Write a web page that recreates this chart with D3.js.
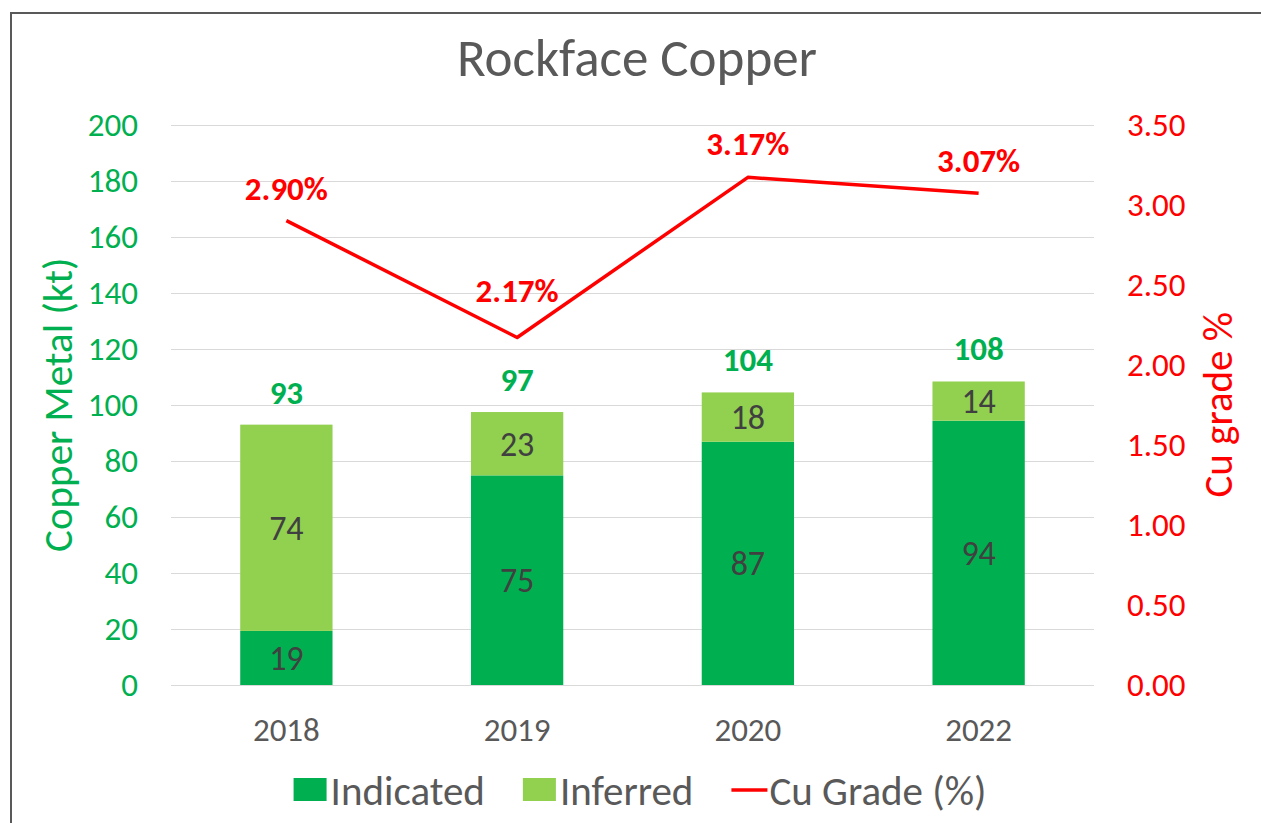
<!DOCTYPE html>
<html>
<head>
<meta charset="UTF-8">
<title>Rockface Copper</title>
<script src="https://d3js.org/d3.v7.min.js"></script>
<style>
    body {
        margin: 0;
        background-color: #fff;
        font-family: Calibri, Carlito, Lato, sans-serif;
    }
    .grid line {
        stroke: #d9d9d9;
        stroke-width: 1;
    }
</style>
</head>
<body>
<svg id="main" width="1261" height="823"></svg>
<script>
    // data
    var years = ["2018", "2019", "2020", "2022"];
    var indicated = [19.3, 74.8, 86.8, 94.3];
    var inferred = [73.6, 22.6, 17.6, 14.0];
    var cuGrade = [2.90, 2.17, 3.17, 3.07];
    var leftTicks = [0, 20, 40, 60, 80, 100, 120, 140, 160, 180, 200];
    var rightTicks = [0, 0.5, 1, 1.5, 2, 2.5, 3, 3.5];

    var green = "#00B050", lightGreen = "#92D050", red = "#FF0000", grey = "#595959";
    var fontStack = "Calibri, Carlito, Lato, sans-serif";

    var svg = d3.select("#main");

    // chart frame
    svg.append("rect")
        .attr("x", 11).attr("y", 13)
        .attr("width", 1400).attr("height", 1000)
        .attr("fill", "#fff")
        .attr("stroke", grey)
        .attr("stroke-width", 2);

    var plotL = 171, plotR = 1094, plotT = 124.5, plotB = 685;

    var x = d3.scaleBand().domain(years).range([plotL, plotR]).paddingInner(0.6).paddingOuter(0.3);
    var y = d3.scaleLinear().domain([0, 200]).range([plotB, plotT]);
    var y2 = d3.scaleLinear().domain([0, 3.5]).range([plotB, plotT]);
    var cx = function(i) { return x(years[i]) + x.bandwidth() / 2; };

    // title
    svg.append("text")
        .attr("x", 637).attr("y", 76)
        .attr("text-anchor", "middle")
        .attr("font-size", 53)
        .attr("fill", grey)
        .text("Rockface Copper");

    // gridlines
    svg.append("g").attr("class", "grid")
        .selectAll("line").data(leftTicks).enter().append("line")
        .attr("x1", plotL).attr("x2", plotR)
        .attr("y1", d => Math.round(y(d)) + 0.5)
        .attr("y2", d => Math.round(y(d)) + 0.5);

    // left axis
    var yAxis = svg.append("g")
        .attr("transform", "translate(" + (plotL - 12) + ",0)")
        .call(d3.axisLeft(y).tickValues(leftTicks).tickSize(0).tickPadding(21));
    yAxis.select(".domain").remove();
    yAxis.selectAll("text").attr("font-size", 33).attr("fill", green)
        .attr("font-family", fontStack);

    // right axis
    var y2Axis = svg.append("g")
        .attr("transform", "translate(" + (plotR + 12) + ",0)")
        .call(d3.axisRight(y2).tickValues(rightTicks).tickSize(0).tickPadding(21).tickFormat(d3.format(".2f")));
    y2Axis.select(".domain").remove();
    y2Axis.selectAll("text").attr("font-size", 33).attr("fill", red)
        .attr("font-family", fontStack);

    // category axis
    var xAxis = svg.append("g")
        .attr("transform", "translate(0," + plotB + ")")
        .call(d3.axisBottom(x).tickSize(0).tickPadding(33));
    xAxis.select(".domain").remove();
    xAxis.selectAll("text").attr("font-size", 33).attr("fill", grey)
        .attr("font-family", fontStack);

    // axis titles
    svg.append("text")
        .attr("transform", "translate(72," + ((plotT + plotB) / 2) + ") rotate(-90)")
        .attr("text-anchor", "middle")
        .attr("font-size", 41)
        .attr("fill", green)
        .text("Copper Metal (kt)");
    svg.append("text")
        .attr("transform", "translate(1232," + ((plotT + plotB) / 2) + ") rotate(-90)")
        .attr("text-anchor", "middle")
        .attr("font-size", 41)
        .attr("fill", red)
        .text("Cu grade %");

    // stacked bars
    var rows = years.map((yr, i) => ({ year: yr, indicated: indicated[i], inferred: inferred[i] }));
    var stack = d3.stack().keys(["indicated", "inferred"])(rows);
    var colors = [green, lightGreen];

    stack.forEach(function(layer, k) {
        var g = svg.append("g");
        g.selectAll("rect").data(layer).enter().append("rect")
            .attr("x", d => x(d.data.year))
            .attr("width", x.bandwidth())
            .attr("y", d => y(d[1]))
            .attr("height", d => y(d[0]) - y(d[1]))
            .attr("fill", colors[k]);
        g.selectAll("text").data(layer).enter().append("text")
            .attr("x", d => x(d.data.year) + x.bandwidth() / 2)
            .attr("y", d => (y(d[0]) + y(d[1])) / 2)
            .attr("dy", "0.35em")
            .attr("text-anchor", "middle")
            .attr("font-size", 34)
            .attr("fill", "#404040")
            .text(d => d3.format(".0f")(d[1] - d[0]));
    });

    // totals
    svg.append("g").selectAll("text").data(rows).enter().append("text")
        .attr("x", d => x(d.year) + x.bandwidth() / 2)
        .attr("y", d => y(d.indicated + d.inferred) - 21)
        .attr("text-anchor", "middle")
        .attr("font-size", 33)
        .attr("font-weight", "bold")
        .attr("fill", green)
        .text(d => d3.format(".0f")(d.indicated + d.inferred));

    // grade line
    var line = d3.line().x((d, i) => cx(i)).y(d => y2(d));
    svg.append("path")
        .datum(cuGrade)
        .attr("d", line)
        .attr("fill", "none")
        .attr("stroke", red)
        .attr("stroke-width", 3.5)
        .attr("stroke-linejoin", "round");

    var gradeLift = [21, 35, 22, 21];
    svg.append("g").selectAll("text").data(cuGrade).enter().append("text")
        .attr("x", (d, i) => cx(i))
        .attr("y", (d, i) => y2(d) - gradeLift[i])
        .attr("text-anchor", "middle")
        .attr("font-size", 33)
        .attr("font-weight", "bold")
        .attr("fill", red)
        .text(d => d3.format(".2f")(d) + "%");

    // legend
    var legend = svg.append("g");
    var items = [
        { name: "Indicated", type: "box", color: green },
        { name: "Inferred", type: "box", color: lightGreen },
        { name: "Cu Grade (%)", type: "line", color: red }
    ];
    var lx = 0;
    items.forEach(function(it, i) {
        var g = legend.append("g").attr("transform", "translate(" + lx + ",0)");
        if (it.type == "box") {
            g.append("rect").attr("x", 0).attr("y", -12).attr("width", 33).attr("height", 23).attr("fill", it.color);
        } else {
            g.append("line").attr("x1", 0).attr("x2", 36).attr("y1", 0).attr("y2", 0)
                .attr("stroke", it.color).attr("stroke-width", 3.5);
        }
        var t = g.append("text")
            .attr("x", it.type == "box" ? 37 : 38)
            .attr("y", 0)
            .attr("dy", "0.36em")
            .attr("font-size", 41)
            .attr("fill", grey)
            .text(it.name);
        lx += (it.type == "box" ? 37 : 38) + t.node().getComputedTextLength() + 38;
    });
    lx -= 38;
    legend.attr("transform", "translate(" + (640 - lx / 2) + ",790)");
</script>
</body>
</html>
